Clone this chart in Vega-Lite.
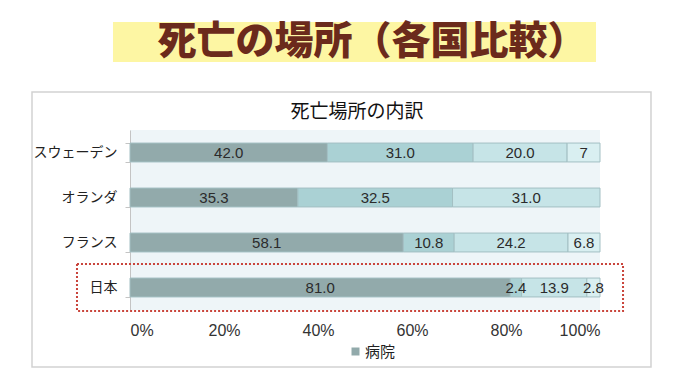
{
  "$schema": "https://vega.github.io/schema/vega-lite/v6.json",
  "width": 470,
  "height": 180,
  "autosize": {"type": "none"},
  "padding": {"left": 130, "top": 130, "right": 80, "bottom": 72},
  "background": "white",
  "config": {
    "view": {"fill": "#eef5f8", "stroke": null},
    "font": "Liberation Sans, Noto Sans CJK JP"
  },
  "data": {
    "values": [
      {"country": "スウェーデン", "cat": "病院", "k": 1, "value": 42.0, "label": "42.0"},
      {"country": "スウェーデン", "cat": "介護施設", "k": 2, "value": 31.0, "label": "31.0"},
      {"country": "スウェーデン", "cat": "自宅", "k": 3, "value": 20.0, "label": "20.0"},
      {"country": "スウェーデン", "cat": "その他", "k": 4, "value": 7.0, "label": "7"},
      {"country": "オランダ", "cat": "病院", "k": 1, "value": 35.3, "label": "35.3"},
      {"country": "オランダ", "cat": "介護施設", "k": 2, "value": 32.5, "label": "32.5"},
      {"country": "オランダ", "cat": "自宅", "k": 3, "value": 31.0, "label": "31.0"},
      {"country": "フランス", "cat": "病院", "k": 1, "value": 58.1, "label": "58.1"},
      {"country": "フランス", "cat": "介護施設", "k": 2, "value": 10.8, "label": "10.8"},
      {"country": "フランス", "cat": "自宅", "k": 3, "value": 24.2, "label": "24.2"},
      {"country": "フランス", "cat": "その他", "k": 4, "value": 6.8, "label": "6.8"},
      {"country": "日本", "cat": "病院", "k": 1, "value": 81.0, "label": "81.0"},
      {"country": "日本", "cat": "介護施設", "k": 2, "value": 2.4, "label": "2.4"},
      {"country": "日本", "cat": "自宅", "k": 3, "value": 13.9, "label": "13.9"},
      {"country": "日本", "cat": "その他", "k": 4, "value": 2.8, "label": "2.8"}
    ]
  },
  "resolve": {"scale": {"y": "independent"}},
  "layer": [
    {
      "data": {"values": [{}]},
      "mark": {"type": "rect", "filled": false, "stroke": "#d2d2d2", "strokeWidth": 1.5},
      "encoding": {
        "x": {"datum": -0.2085, "type": "quantitative", "scale": {"domain": [0, 1], "nice": false, "zero": false}, "title": null},
        "x2": {"datum": 1.1085},
        "y": {"datum": 1.2111, "type": "quantitative", "scale": {"domain": [0, 1], "nice": false, "zero": false}, "axis": null},
        "y2": {"datum": -0.3167}
      }
    },
    {
      "data": {"values": [{}]},
      "mark": {"type": "rect", "fill": "#fdf6a3"},
      "encoding": {
        "x": {"datum": -0.0362, "type": "quantitative", "scale": {"domain": [0, 1], "nice": false, "zero": false}, "title": null},
        "x2": {"datum": 0.9915},
        "y": {"datum": 1.6, "type": "quantitative", "scale": {"domain": [0, 1], "nice": false, "zero": false}, "axis": null},
        "y2": {"datum": 1.3778}
      }
    },
    {
      "data": {"values": [{"t": "死亡の場所（各国比較）"}]},
      "mark": {"type": "text", "font": "Noto Sans CJK JP", "fontSize": 39, "fontWeight": 900, "color": "#6b2a1c", "align": "center", "baseline": "middle"},
      "encoding": {
        "x": {"datum": 0.515, "type": "quantitative", "scale": {"domain": [0, 1], "nice": false, "zero": false}, "title": null},
        "y": {"datum": 1.4889, "type": "quantitative", "scale": {"domain": [0, 1], "nice": false, "zero": false}, "axis": null},
        "text": {"field": "t"}
      }
    },
    {
      "data": {"values": [{"t": "死亡場所の内訳"}]},
      "mark": {"type": "text", "font": "Noto Sans CJK JP", "fontSize": 19, "color": "#111111", "align": "center", "baseline": "middle"},
      "encoding": {
        "x": {"datum": 0.483, "type": "quantitative", "scale": {"domain": [0, 1], "nice": false, "zero": false}, "title": null},
        "y": {"datum": 1.1, "type": "quantitative", "scale": {"domain": [0, 1], "nice": false, "zero": false}, "axis": null},
        "text": {"field": "t"}
      }
    },
    {
      "mark": {"type": "bar", "stroke": "#a3bfc3", "strokeWidth": 1},
      "encoding": {
        "y": {
          "field": "country", "type": "nominal",
          "sort": ["スウェーデン", "オランダ", "フランス", "日本"],
          "scale": {"paddingInner": 0.58, "paddingOuter": 0.29},
          "axis": {"title": null, "labelFont": "Noto Sans CJK JP", "labelFontSize": 14, "labelColor": "#222222", "labelPadding": 8, "domainColor": "#c4c4c4", "tickColor": "#c4c4c4", "tickBand": "extent", "tickSize": 5}
        },
        "x": {
          "field": "value", "type": "quantitative", "stack": "normalize",
          "scale": {"domain": [0, 1], "nice": false, "zero": false},
          "title": null,
          "axis": {"title": null, "format": "%", "values": [0, 0.2, 0.4, 0.6, 0.8, 1], "labelFont": "Liberation Sans", "labelFontSize": 16, "labelColor": "#333333", "labelPadding": 12, "ticks": false, "domain": false, "gridColor": "#c9cfd1"}
        },
        "color": {
          "field": "cat", "type": "nominal",
          "scale": {"domain": ["病院", "介護施設", "自宅", "その他"], "range": ["#92aaab", "#aad1d4", "#c6e4e7", "#d9eff1"]},
          "legend": {"values": ["病院"], "title": null, "orient": "none", "legendX": 218, "legendY": 214, "symbolType": "square", "symbolSize": 64, "symbolStrokeWidth": 0, "labelFont": "Noto Sans CJK JP", "labelFontSize": 15, "labelColor": "#222222", "labelOffset": 2}
        },
        "order": {"field": "k", "type": "quantitative"}
      }
    },
    {
      "mark": {"type": "text", "font": "Liberation Sans", "fontSize": 15, "color": "#2b2b2b", "baseline": "middle"},
      "encoding": {
        "y": {
          "field": "country", "type": "nominal",
          "sort": ["スウェーデン", "オランダ", "フランス", "日本"],
          "scale": {"paddingInner": 0.58, "paddingOuter": 0.29},
          "axis": null
        },
        "x": {"field": "value", "type": "quantitative", "stack": "normalize", "bandPosition": 0.5, "scale": {"domain": [0, 1], "nice": false, "zero": false}, "title": null},
        "detail": {"field": "cat"},
        "order": {"field": "k", "type": "quantitative"},
        "text": {"field": "label"}
      }
    },
    {
      "data": {"values": [{}]},
      "mark": {"type": "rect", "filled": false, "stroke": "#c9443b", "strokeWidth": 2, "strokeDash": [2, 2]},
      "encoding": {
        "x": {"datum": -0.1128, "type": "quantitative", "scale": {"domain": [0, 1], "nice": false, "zero": false}, "title": null},
        "x2": {"datum": 1.049},
        "y": {"datum": 0.2556, "type": "quantitative", "scale": {"domain": [0, 1], "nice": false, "zero": false}, "axis": null},
        "y2": {"datum": -0.0056}
      }
    }
  ]
}
